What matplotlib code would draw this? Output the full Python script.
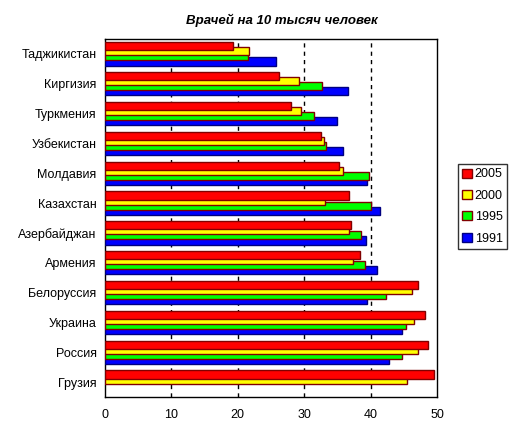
import matplotlib
matplotlib.use("Agg")
import matplotlib.pyplot as plt
import numpy as np
from matplotlib.patches import Patch

plt.rcParams['font.family'] = ['Liberation Sans', 'DejaVu Sans']

categories = ["Грузия", "Россия", "Украина", "Белоруссия", "Армения", "Азербайджан",
              "Казахстан", "Молдавия", "Узбекистан", "Туркмения", "Киргизия", "Таджикистан"]
series_names = ["2005", "2000", "1995", "1991"]
v2005 = [49.5, 48.6, 48.2, 47.1, 38.4, 37.0, 36.7, 35.2, 32.6, 28.0, 26.2, 19.3]
v2000 = [45.5, 47.1, 46.5, 46.2, 37.3, 36.7, 33.2, 35.8, 33.0, 29.5, 29.2, 21.7]
v1995 = [np.nan, 44.7, 45.3, 42.3, 39.2, 38.6, 40.0, 39.8, 33.3, 31.5, 32.7, 21.5]
v1991 = [np.nan, 42.8, 44.8, 39.4, 41.0, 39.3, 41.4, 39.4, 35.8, 34.9, 36.6, 25.7]
x_ticks = [0, 10, 20, 30, 40, 50]
title = "Врачей на 10 тысяч человек"

colors = {"2005": "#ff0000", "2000": "#ffff00", "1995": "#00ff00", "1991": "#0000ff"}
edges = {"2005": "#800000", "2000": "#800000", "1995": "#800000", "1991": "#000080"}
values = {"2005": v2005, "2000": v2000, "1995": v1995, "1991": v1991}

fig = plt.figure(figsize=(5.14, 4.42), dpi=100)
ax = fig.add_axes([105/514, 1-397/442, (437-105)/514, (397-39)/442])

y = np.arange(len(categories))
h = 0.27
d = 0.17
offsets = {"2005": 1.5*d, "2000": 0.5*d, "1995": -0.5*d, "1991": -1.5*d}
for name in ["1991", "1995", "2000", "2005"]:
    vals = np.array(values[name], dtype=float)
    ax.barh(y + offsets[name], vals, height=h, color=colors[name],
            edgecolor=edges[name], linewidth=1, label=name, zorder=3)

ax.set_xlim(0, 50)
ax.set_ylim(-0.5, len(categories) - 0.5)
ax.set_xticks(x_ticks)
ax.set_xticklabels([str(t) for t in x_ticks], fontsize=9)
ax.set_yticks(y)
ax.set_yticklabels(categories, fontsize=9)
ax.tick_params(axis='both', length=0, pad=6)
ax.tick_params(axis='x', pad=9)
for t in [10, 20, 30, 40]:
    ax.axvline(t, color='black', linestyle=(0, (3, 3)), linewidth=1, zorder=1)
for s in ax.spines.values():
    s.set_linewidth(1)
    s.set_color('black')

fig.text(282/514, 1-20/442, title, ha='center', va='center', fontsize=9.5,
         fontweight='bold', fontstyle='italic')

leg_handles = [Patch(facecolor=colors[n], edgecolor=edges[n], linewidth=1) for n in series_names]
leg = fig.legend(leg_handles, series_names, loc='center', bbox_to_anchor=(482.5/514, 1-206.5/442),
                 fontsize=9, frameon=True, fancybox=False, edgecolor='black',
                 handlelength=0.75, handleheight=0.75, handletextpad=0.25,
                 labelspacing=0.75, borderpad=0.35, borderaxespad=0)
leg.get_frame().set_linewidth(1)

fig.savefig("out.png", dpi=100)
